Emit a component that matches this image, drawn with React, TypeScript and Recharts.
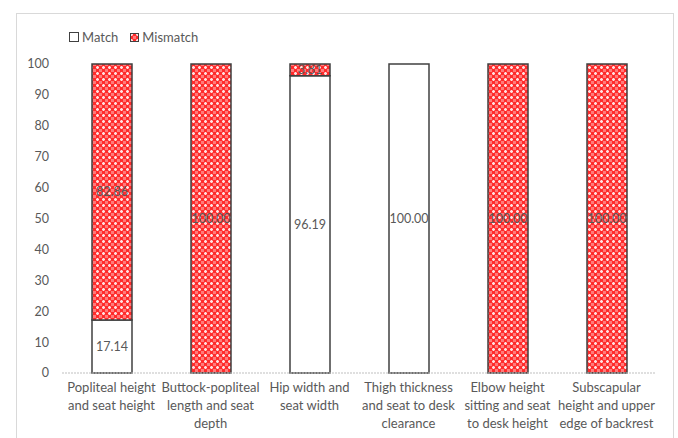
import React from 'react';
import { BarChart, Bar, XAxis, YAxis, LabelList } from 'recharts';

const categories = [
  'Popliteal height and seat height',
  'Buttock-popliteal length and seat depth',
  'Hip width and seat width',
  'Thigh thickness and seat to desk clearance',
  'Elbow height sitting and seat to desk height',
  'Subscapular height and upper edge of backrest',
];

// wrapped the way the original chart breaks them
const categoryLines = [
  ['Popliteal height', 'and seat height'],
  ['Buttock-popliteal', 'length and seat', 'depth'],
  ['Hip width and', 'seat width'],
  ['Thigh thickness', 'and seat to desk', 'clearance'],
  ['Elbow height', 'sitting and seat', 'to desk height'],
  ['Subscapular', 'height and upper', 'edge of backrest'],
];

const matchValues = [17.14, 0, 96.19, 100, 0, 0];
const mismatchValues = [82.86, 100, 3.81, 0, 100, 100];
const yTicks = [0, 10, 20, 30, 40, 50, 60, 70, 80, 90, 100];

const data = categories.map((name, i) => ({
  name,
  idx: i,
  match: matchValues[i],
  mismatch: mismatchValues[i],
}));

const FONT = 'Lato, "Liberation Sans", sans-serif';
const TEXT = '#595959';

const fmt = (v: any) => (v ? Number(v).toFixed(2) : '');

const CategoryTick = ({ x, y, payload }: any) => {
  const lines = categoryLines[payload.index] || [payload.value];
  return (
    <g transform={`translate(${x},${y})`}>
      {lines.map((l, i) => (
        <text
          key={i}
          x={0}
          y={19 + i * 18}
          textAnchor="middle"
          fontSize={13}
          fontFamily={FONT}
          fill={TEXT}
        >
          {l}
        </text>
      ))}
    </g>
  );
};

const LegendBox = () => (
  <div style={styles.legend}>
    <span style={styles.legendItem}>
      <span style={{ ...styles.legendSwatch, background: '#fff' }} />
      Match
    </span>
    <span style={styles.legendItem}>
      <svg width={9} height={9} style={{ marginRight: 3 }}>
        <rect x={0.5} y={0.5} width={8} height={8} fill="url(#redDots)" stroke="#404040" />
      </svg>
      Mismatch
    </span>
  </div>
);

export default function App() {
  return (
    <div style={styles.page}>
      <div style={styles.frame} />
      <LegendBox />
      <div style={{ position: 'absolute', left: 0, top: 0 }}>
        <BarChart
          width={678}
          height={438}
          data={data}
          margin={{ top: 64, right: 22, left: 0, bottom: 0 }}
          barCategoryGap="0%"
        >
          <defs>
            <pattern id="redDots" width={6} height={6} patternUnits="userSpaceOnUse">
              <rect width={6} height={6} fill="#ff2b2b" />
              <rect x={0} y={0} width={3} height={3} fill="#ff7a7a" />
              <rect x={3} y={3} width={3} height={3} fill="#ff7a7a" />
              <rect x={1} y={0} width={1} height={3} fill="#ffe0e0" />
              <rect x={0} y={1} width={3} height={1} fill="#ffe0e0" />
            </pattern>
          </defs>
          <XAxis
            dataKey="name"
            height={65}
            interval={0}
            tickLine={false}
            axisLine={{ stroke: '#bfbfbf', strokeDasharray: '2 1' }}
            tick={<CategoryTick />}
            tickSize={0}
            tickMargin={0}
          />
          <YAxis
            width={62}
            domain={[0, 100]}
            ticks={yTicks}
            interval={0}
            axisLine={false}
            tickLine={false}
            tickSize={0}
            tickMargin={13}
            tick={{ fontSize: 12.5, fill: TEXT, fontFamily: FONT }}
          />
          <Bar
            dataKey="match"
            stackId="a"
            barSize={40}
            fill="#ffffff"
            stroke="#404040"
            strokeWidth={1.5}
            isAnimationActive={false}
          >
            <LabelList
              dataKey="match"
              position="center"
              formatter={fmt}
              style={{ fontSize: 12.5, fill: TEXT, fontFamily: FONT }}
            />
          </Bar>
          <Bar
            dataKey="mismatch"
            stackId="a"
            barSize={40}
            fill="url(#redDots)"
            stroke="#404040"
            strokeWidth={1.5}
            isAnimationActive={false}
          >
            <LabelList
              dataKey="mismatch"
              position="center"
              formatter={fmt}
              style={{ fontSize: 12.5, fill: TEXT, fontFamily: FONT }}
            />
          </Bar>
        </BarChart>
      </div>
    </div>
  );
}

const styles: Record<string, React.CSSProperties> = {
  page: {
    position: 'fixed',
    left: 0,
    top: 0,
    width: 678,
    height: 438,
    overflow: 'hidden',
    background: '#ffffff',
  },
  frame: {
    position: 'absolute',
    left: 16,
    top: 13,
    width: 656,
    height: 460,
    border: '1px solid #d9d9d9',
  },
  legend: {
    position: 'absolute',
    left: 69,
    top: 29,
    display: 'flex',
    gap: 12,
    fontFamily: FONT,
    fontSize: 13,
    color: TEXT,
    zIndex: 2,
  },
  legendItem: {
    display: 'flex',
    alignItems: 'center',
  },
  legendSwatch: {
    display: 'inline-block',
    width: 8,
    height: 8,
    border: '1px solid #404040',
    marginRight: 3,
  },
};
